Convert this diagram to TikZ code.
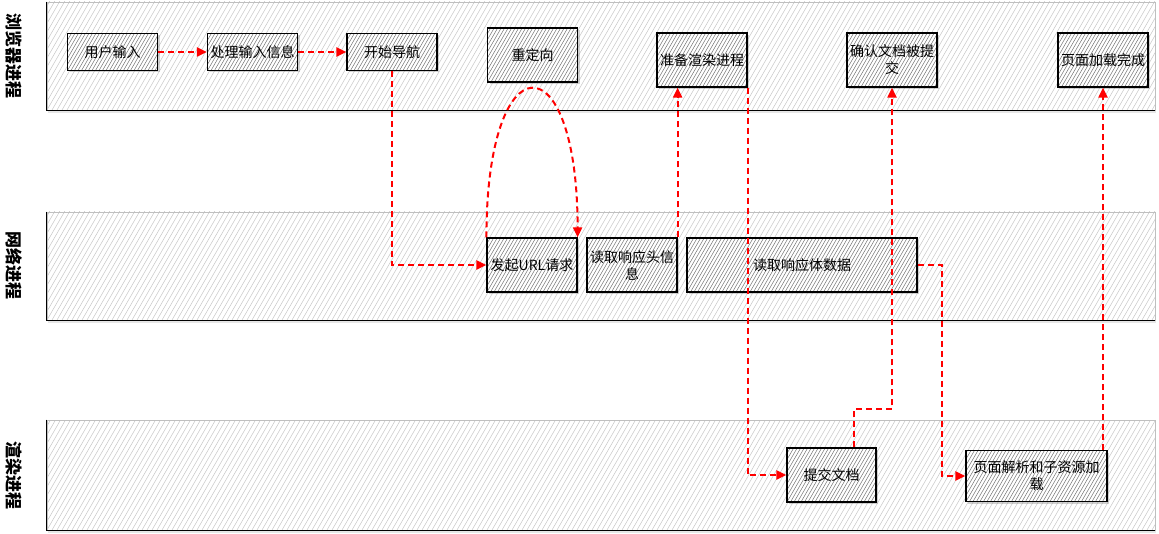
\documentclass[tikz,border=0pt]{standalone}
\usepackage{fontspec}
\newfontfamily\cjk{Noto Sans CJK SC}
\usetikzlibrary{arrows.meta,shadows}
\tikzset{
  lanehatch/.style={path picture={
    \foreach \k in {0,...,240}
      \draw[black!22, line width=0.5pt] ([xshift=\k*5pt-70pt]path picture bounding box.south west) -- ++(-60:300);
  }},
  boxhatch/.style={path picture={
    \foreach \k in {0,...,80}
      \draw[black!55, line width=0.5pt] ([xshift=\k*3.5pt-35pt]path picture bounding box.south west) -- ++(-60:120);
  }},
  lane/.style={draw=black!25, line width=0.8pt, minimum width=1108pt, minimum height=108pt,
    fill=white, lanehatch,
    drop shadow={shadow xshift=1pt, shadow yshift=-3pt, opacity=0.2}},
  laneedge/.style={draw=black, line width=1pt},
  lanetitle/.style={font=\cjk\bfseries\fontsize{17}{17}\selectfont, rotate=-90, inner sep=0},
  box/.style={draw=black, line width=1.2pt, minimum width=90pt, minimum height=54pt,
    inner sep=1pt, align=center, font=\cjk\fontsize{14}{17}\selectfont,
    fill=white, boxhatch,
    drop shadow={shadow xshift=2pt, shadow yshift=-2pt, opacity=0.35}},
  flow/.style={red, line width=2pt, dash pattern=on 6pt off 4pt,
    -{Triangle[length=10pt,width=9pt]}}
}
\begin{document}
\begin{tikzpicture}[x=1pt,y=-1pt]
  \useasboundingbox (0,0) rectangle (1159,534);
  % lanes
  \node[lane] (bl) at (601,56) {};
  \node[lane] (nl) at (601,266) {};
  \node[lane, minimum height=110pt] (rl) at (601,475) {};
  \foreach \l in {bl,nl,rl}
    \draw[laneedge] (\l.north west) |- (\l.south east);
  \node[lanetitle] (bt) at (14,56) {浏览器进程};
  \node[lanetitle] (nt) at (14,266) {网络进程};
  \node[lanetitle] (rt) at (14,475) {渲染进程};
  % browser process
  \node[box, minimum height=37pt] (input) at (112.5,52) {用户输入};
  \node[box, minimum height=37pt] (proc) at (252.5,52) {处理输入信息};
  \node[box, minimum height=37pt] (nav) at (392,52) {开始导航};
  \node[box] (redir) at (532.5,55) {重定向};
  \node[box] (prep) at (702,60) {准备渲染进程};
  \node[box] (confirm) at (892,60) {确认文档被提\\交};
  \node[box] (done) at (1103,60) {页面加载完成};
  % network process
  \node[box] (req) at (532,265) {发起URL请求};
  \node[box] (hdr) at (632,265) {读取响应头信\\息};
  \node[box, minimum width=230pt] (body) at (802,265) {读取响应体数据};
  % render process
  \node[box, minimum width=89pt] (commit) at (831.5,475) {提交文档};
  \node[box, minimum width=141pt, minimum height=51pt] (parse) at (1036.5,476) {页面解析和子资源加\\载};
  \begin{scope}[flow]
    \draw (input) -- (proc);
    \draw (proc) -- (nav);
    \draw (nav.south) |- (req.west);
    \draw (req.north west) .. controls +(0,-198) and +(0,-198) .. (req.north east);
    \draw (hdr.north east) -- (hdr.north east |- prep.south);
    \draw (prep.south east) |- (commit.west);
    \draw ([xshift=22.5pt]commit.north) -- ++(0,-38) -| (confirm.south);
    \draw (body.east) -- ++(24,0) |- (parse.west);
    \draw (done.south |- parse.north) -- (done.south);
  \end{scope}
\end{tikzpicture}
\end{document}
